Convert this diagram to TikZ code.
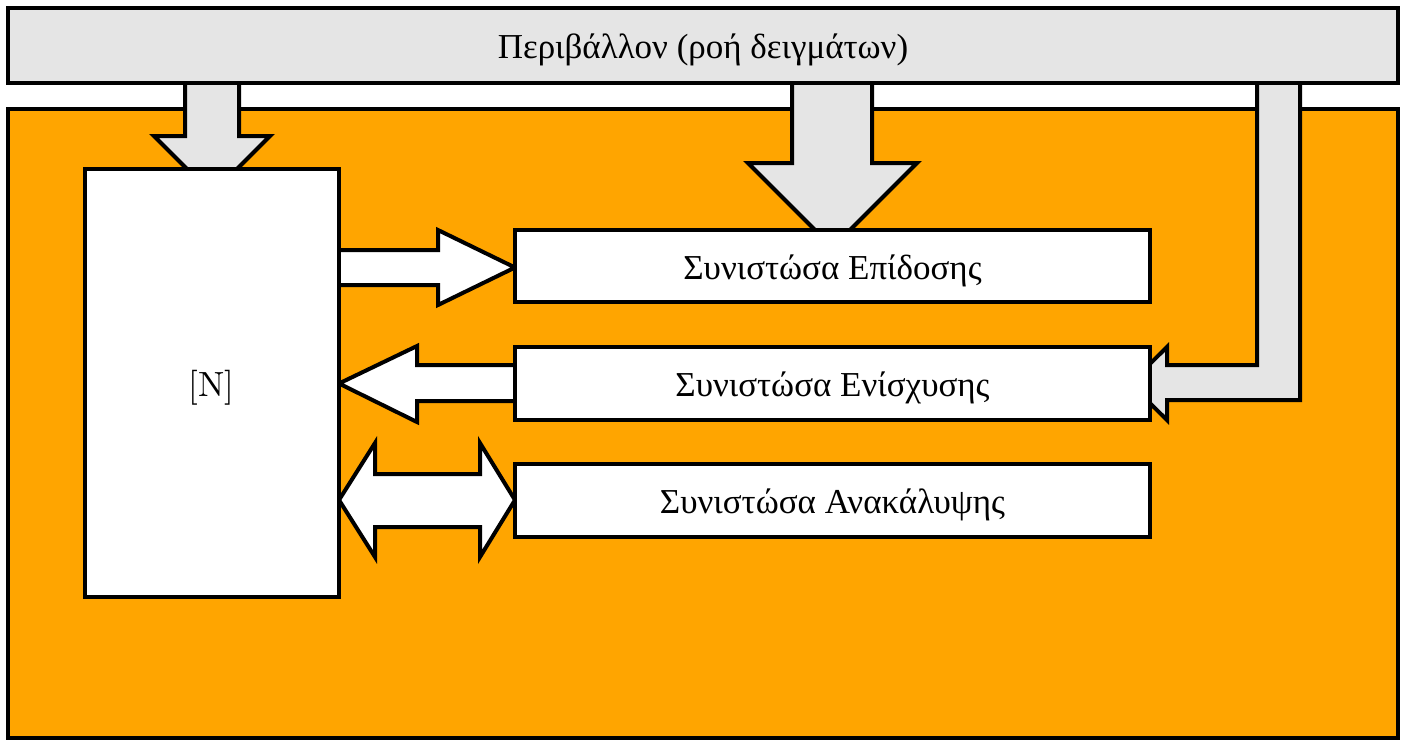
\documentclass[tikz,border=0pt]{standalone}
\usepackage{fontspec}
\newfontfamily\gr{Liberation Serif}
\usetikzlibrary{calc}
\definecolor{envgray}{gray}{0.9}
\definecolor{agentorange}{HTML}{FFA500}
\tikzset{
  box/.style={draw=black, line width=1.2pt, rectangle, inner sep=0pt, font=\fontsize{10.5}{12}\selectfont\gr},
  whitebox/.style={box, fill=white},
  lowtext/.style={text height=9.8pt, text depth=2pt},
  blockarrow/.style={draw=black, line width=1.2pt, line join=miter},
  grayarrow/.style={blockarrow, fill=envgray},
  whitearrow/.style={blockarrow, fill=white}
}
\begin{document}
\begin{tikzpicture}[x=0.3pt,y=-0.3pt]
\useasboundingbox (0,0) rectangle (1407,745);
% agent area
\node[box, fill=agentorange, minimum width=417pt, minimum height=188.7pt] (agent) at (703,423.5) {};
% gray arrows from environment
\draw[grayarrow] (185,60) -- (185,136) -- (154,136) -- (212,194) -- (270,136) -- (239,136) -- (239,60);
\draw[grayarrow] (792,60) -- (792,163) -- (748,163) -- (832.5,247.5) -- (917,163) -- (872,163) -- (872,60);
\draw[grayarrow] (1257,60) -- (1257,365) -- (1167,365) -- (1167,347) -- (1130,383.5) -- (1167,420) -- (1167,400) -- (1300,400) -- (1300,60);
% environment
\node[box, lowtext, fill=envgray, minimum width=417pt, minimum height=22.5pt] (env) at (703,45.5) {Περιβάλλον (ροή δειγμάτων)};
% white arrows
\draw[whitearrow] (320,250) -- (438,250) -- (438,230) -- (515,267.5) -- (438,305) -- (438,285) -- (320,285);
\draw[whitearrow] (530,365) -- (417,365) -- (417,346) -- (339,383.5) -- (417,422) -- (417,401) -- (530,401);
\draw[whitearrow] (339,500) -- (375,443) -- (375,474) -- (480,474) -- (480,443) -- (515,500) -- (480,557) -- (480,527) -- (375,527) -- (375,557) -- cycle;
% agent components
\node[whitebox, lowtext, minimum width=76.35pt, minimum height=128.4pt, font=\fontsize{10.5}{12}\selectfont] (N) at (211.75,383) {[N]};
\node[whitebox, lowtext, minimum width=190.5pt, minimum height=21.6pt] (perf) at (832.5,266) {Συνιστώσα Επίδοσης};
\node[whitebox, lowtext, minimum width=190.5pt, minimum height=21.9pt] (reinf) at (832.5,383.5) {Συνιστώσα Ενίσχυσης};
\node[whitebox, lowtext, minimum width=190.5pt, minimum height=21.9pt] (disc) at (832.5,500.5) {Συνιστώσα Ανακάλυψης};
\end{tikzpicture}
\end{document}
